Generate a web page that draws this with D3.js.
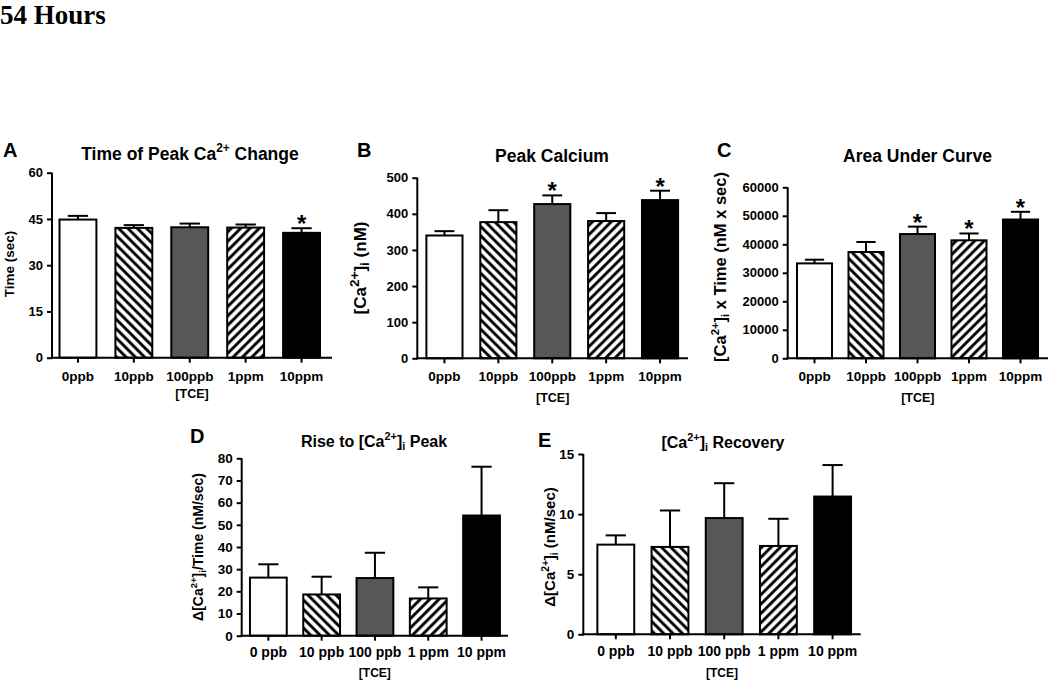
<!DOCTYPE html>
<html>
<head>
<meta charset="utf-8">
<script src="https://cdn.jsdelivr.net/npm/d3@7"></script>
<style>
  html, body { margin: 0; padding: 0; background: #fff; }
  svg { display: block; }
  text { font-family: "Liberation Sans", Arial, sans-serif; font-weight: bold; fill: #000; }
</style>
</head>
<body>
<svg id="chart" width="1050" height="685"></svg>
<script>
// ---------------- DATA ----------------
const categoriesTop = ["0ppb", "10ppb", "100ppb", "1ppm", "10ppm"];
const categoriesBottom = ["0 ppb", "10 ppb", "100 ppb", "1 ppm", "10 ppm"];

const timeMean = [44.8, 42.1, 42.3, 42.2, 40.5];
const timeSem  = [1.2, 0.9, 1.2, 1.0, 1.5];
const timeSig  = [false, false, false, false, true];
const timeTicks = [0, 15, 30, 45, 60];

const peakMean = [340, 377, 427, 380, 438];
const peakSem  = [12, 33, 24, 22, 26];
const peakSig  = [false, false, true, false, true];
const peakTicks = [0, 100, 200, 300, 400, 500];

const aucMean = [33300, 37300, 43600, 41400, 48700];
const aucSem  = [1300, 3500, 2600, 2400, 2700];
const aucSig  = [false, false, true, true, true];
const aucTicks = [0, 10000, 20000, 30000, 40000, 50000, 60000];

const riseMean = [26.2, 18.6, 26.0, 16.8, 54.2];
const riseSem  = [6.0, 8.0, 11.4, 5.0, 22.0];
const riseSig  = [false, false, false, false, false];
const riseTicks = [0, 10, 20, 30, 40, 50, 60, 70, 80];

const recMean = [7.46, 7.27, 9.67, 7.35, 11.46];
const recSem  = [0.77, 3.03, 2.90, 2.26, 2.62];
const recSig  = [false, false, false, false, false];
const recTicks = [0, 5, 10, 15];

const xAxisTitle = "[TCE]";
const figureTitle = "54 Hours";

// ---------------- DRAWING ----------------
const svg = d3.select("#chart");
const defs = svg.append("defs");

function hatch(id, angle) {
  const p = defs.append("pattern")
    .attr("id", id).attr("patternUnits", "userSpaceOnUse")
    .attr("width", 6.6).attr("height", 6.6)
    .attr("patternTransform", `rotate(${angle})`);
  p.append("rect").attr("width", 6.6).attr("height", 6.6).attr("fill", "#fff");
  p.append("line").attr("x1", 1.6).attr("x2", 1.6).attr("y1", 0).attr("y2", 6.6)
    .attr("stroke", "#000").attr("stroke-width", 2.9);
}
hatch("hatchBack", -45);   // "\"
hatch("hatchFwd", 45);     // "/"
const fills = ["#ffffff", "url(#hatchBack)", "#575757", "url(#hatchFwd)", "#000000"];

// rich text helper: parts = [{t, sup, sub}]
function rich(sel, parts, fs, ss) {
  ss = ss || 0.68;
  let cur = 0;
  parts.forEach(p => {
    const target = p.sup ? -fs * 0.42 : (p.sub ? fs * 0.2 : 0);
    sel.append("tspan")
      .attr("font-size", (p.sup || p.sub) ? fs * ss : fs)
      .attr("dy", target - cur)
      .text(p.t);
    cur = target;
  });
}

function panel(cfg) {
  const g = svg.append("g");
  const y = d3.scaleLinear().domain([0, cfg.ticks[cfg.ticks.length - 1]]).range([cfg.y0, cfg.yTop]);
  const x = d3.scaleBand().domain(cfg.cats).range(cfg.xRange)
    .paddingInner(cfg.pad).paddingOuter(cfg.pad / 2);
  const bw = x.bandwidth();

  // bars
  g.selectAll("rect.bar").data(cfg.mean).join("rect")
    .attr("x", (d, i) => x(cfg.cats[i]))
    .attr("y", d => y(d))
    .attr("width", bw)
    .attr("height", d => cfg.y0 - y(d))
    .attr("fill", (d, i) => fills[i])
    .attr("stroke", "#000").attr("stroke-width", 2);

  // error bars
  const cap = bw * 0.55;
  cfg.mean.forEach((m, i) => {
    const cx = x(cfg.cats[i]) + bw / 2;
    const top = y(m + cfg.sem[i]);
    g.append("line").attr("x1", cx).attr("x2", cx).attr("y1", y(m)).attr("y2", top)
      .attr("stroke", "#000").attr("stroke-width", 2);
    g.append("line").attr("x1", cx - cap / 2).attr("x2", cx + cap / 2).attr("y1", top).attr("y2", top)
      .attr("stroke", "#000").attr("stroke-width", 2);
    if (cfg.sig[i]) {
      g.append("text").attr("x", cx).attr("y", top + 4).attr("text-anchor", "middle")
        .attr("font-size", 24).text("*");
    }
  });

  // y axis
  const ya = g.append("g").attr("transform", `translate(${cfg.axisX},0)`)
    .call(d3.axisLeft(y).tickValues(cfg.ticks).tickSize(5).tickSizeOuter(0).tickPadding(4)
      .tickFormat(d3.format("d")));
  ya.select(".domain").attr("stroke-width", 2).attr("d", `M0,${cfg.y0 + 1}V${cfg.yTop}`);
  ya.selectAll(".tick line").attr("stroke-width", 2);
  ya.selectAll(".tick text").attr("font-size", cfg.yfs).attr("font-family", null).attr("font-weight", "bold");

  // x axis
  const xa = g.append("g").attr("transform", `translate(0,${cfg.y0})`)
    .call(d3.axisBottom(x).tickSize(5).tickSizeOuter(0).tickPadding(cfg.xpad));
  xa.select(".domain").attr("stroke-width", 2).attr("d", `M${cfg.axisX - 1},0H${cfg.axisEnd}`);
  xa.selectAll(".tick line").attr("stroke-width", 2);
  xa.selectAll(".tick text").attr("font-size", cfg.xfs).attr("font-family", null).attr("font-weight", "bold");

  // x axis title
  g.append("text").attr("x", (cfg.axisX + cfg.axisEnd) / 2).attr("y", cfg.xtY)
    .attr("text-anchor", "middle").attr("font-size", cfg.xtfs).text(xAxisTitle);

  // y axis title
  const yt = g.append("text").attr("text-anchor", "middle")
    .attr("transform", `translate(${cfg.ytX},${cfg.ytY}) rotate(-90)`).attr("dy", "0.35em");
  rich(yt, cfg.ytitle, cfg.ytfs, cfg.ytss);

  // panel title
  const tt = g.append("text").attr("x", cfg.tX).attr("y", cfg.tY).attr("text-anchor", "middle");
  rich(tt, cfg.title, cfg.tfs);

  // panel letter
  g.append("text").attr("x", cfg.lX).attr("y", cfg.lY).attr("font-size", cfg.lfs).text(cfg.letter);
}

// figure title
svg.append("text").attr("x", 0).attr("y", 24)
  .style("font-family", "'Liberation Serif', 'Times New Roman', serif")
  .attr("font-size", 27).attr("font-weight", "bold").text(figureTitle);

const topCommon = { cats: categoriesTop, yfs: 13, xfs: 13.5, xpad: 8.5, xtfs: 12.5, tfs: 17.5, lfs: 20 };
const botCommon = { cats: categoriesBottom, yfs: 13.5, xfs: 14, xpad: 6.5, xtfs: 12, tfs: 16, lfs: 20 };

panel(Object.assign({}, topCommon, {
  mean: timeMean, sem: timeSem, sig: timeSig, ticks: timeTicks,
  axisX: 52, axisEnd: 332, xRange: [50, 329.5], pad: 0.34, y0: 357.7, yTop: 172.7,
  xtY: 398, ytX: 13.5, ytY: 264, ytfs: 13.5, tX: 190, tY: 159.5, lX: 3, lY: 157, letter: "A",
  ytitle: [{ t: "Time (sec)" }],
  title: [{ t: "Time of Peak Ca" }, { t: "2+", sup: true }, { t: " Change" }]
}));

panel(Object.assign({}, topCommon, {
  mean: peakMean, sem: peakSem, sig: peakSig, ticks: peakTicks,
  axisX: 417.3, axisEnd: 688, xRange: [417.5, 687], pad: 0.33, y0: 358.3, yTop: 177.7,
  xtY: 402, ytX: 366, ytY: 268, ytfs: 17, ytss: 0.8, tX: 552, tY: 161.5, lX: 357, lY: 157, letter: "B",
  ytitle: [{ t: "[Ca" }, { t: "2+", sup: true }, { t: "]" }, { t: "i", sub: true }, { t: " (nM)" }],
  title: [{ t: "Peak Calcium" }]
}));

panel(Object.assign({}, topCommon, {
  mean: aucMean, sem: aucSem, sig: aucSig, ticks: aucTicks,
  axisX: 787.7, axisEnd: 1048, xRange: [788.75, 1046.25], pad: 0.32, y0: 358.3, yTop: 187.3,
  xtY: 401.5, ytX: 726, ytY: 267, ytfs: 16.5, tX: 917.5, tY: 161.5, lX: 717, lY: 157, letter: "C",
  ytitle: [{ t: "[Ca" }, { t: "2+", sup: true }, { t: "]" }, { t: "i", sub: true }, { t: " x  Time (nM x sec)" }],
  title: [{ t: "Area Under Curve" }]
}));

panel(Object.assign({}, botCommon, {
  mean: riseMean, sem: riseSem, sig: riseSig, ticks: riseTicks,
  axisX: 241.7, axisEnd: 508, xRange: [241.7, 508.2], pad: 0.31, y0: 635.7, yTop: 458.3,
  xtY: 676.5, ytX: 203, ytY: 547, ytfs: 14, tX: 374, tY: 447, lX: 190, lY: 443, letter: "D",
  ytitle: [{ t: "Δ[Ca" }, { t: "2+", sup: true }, { t: "]" }, { t: "i", sub: true }, { t: "/Time  (nM/sec)" }],
  title: [{ t: "Rise to [Ca" }, { t: "2+", sup: true }, { t: "]" }, { t: "i", sub: true }, { t: " Peak" }]
}));

panel(Object.assign({}, botCommon, {
  mean: recMean, sem: recSem, sig: recSig, ticks: recTicks,
  axisX: 583.3, axisEnd: 860.7, xRange: [588.7, 859.7], pad: 0.32, y0: 634.3, yTop: 454,
  xtY: 676.5, ytX: 555, ytY: 547, ytfs: 15, tX: 723, tY: 448, lX: 538, lY: 447, letter: "E",
  ytitle: [{ t: "Δ[Ca" }, { t: "2+", sup: true }, { t: "]" }, { t: "i", sub: true }, { t: " (nM/sec)" }],
  title: [{ t: "[Ca" }, { t: "2+", sup: true }, { t: "]" }, { t: "i", sub: true }, { t: " Recovery" }]
}));
</script>
</body>
</html>
